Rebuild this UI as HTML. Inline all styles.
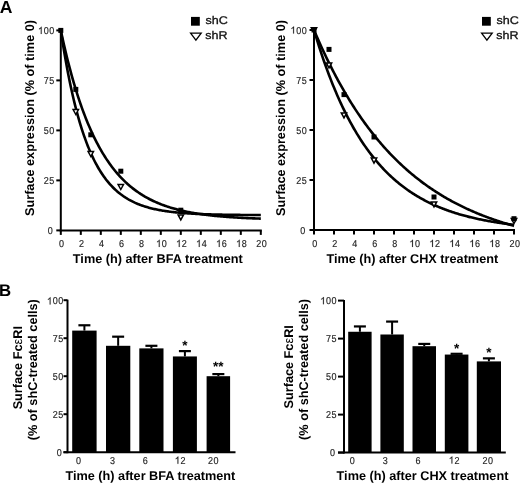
<!DOCTYPE html>
<html><head><meta charset="utf-8"><style>
html,body{margin:0;padding:0;background:#fff;}
body{width:520px;height:483px;overflow:hidden;}
svg{display:block;will-change:transform;}
text{font-family:"Liberation Sans",sans-serif;text-rendering:geometricPrecision;}
</style></head><body>
<svg width="520" height="483" viewBox="0 0 520 483">
<rect width="520" height="483" fill="#fff"/>
<line x1="60.8" y1="29.900000000000006" x2="60.8" y2="231.4" stroke="#000" stroke-width="2"/>
<line x1="59.8" y1="230.4" x2="261.8" y2="230.4" stroke="#000" stroke-width="2"/>
<line x1="56.3" y1="230.4" x2="60.8" y2="230.4" stroke="#000" stroke-width="2"/>
<text transform="translate(50.32 234.00) scale(0.9 1)" font-size="10" text-anchor="middle" fill="#222" stroke="#222" stroke-width="0.15">0</text>
<line x1="56.3" y1="180.4" x2="60.8" y2="180.4" stroke="#000" stroke-width="2"/>
<text transform="translate(46.26 184.00) scale(0.9 1)" font-size="10" text-anchor="middle" fill="#222" stroke="#222" stroke-width="0.15">2</text>
<text transform="translate(51.82 184.00) scale(0.9 1)" font-size="10" text-anchor="middle" fill="#222" stroke="#222" stroke-width="0.15">5</text>
<line x1="56.3" y1="130.4" x2="60.8" y2="130.4" stroke="#000" stroke-width="2"/>
<text transform="translate(46.26 134.00) scale(0.9 1)" font-size="10" text-anchor="middle" fill="#222" stroke="#222" stroke-width="0.15">5</text>
<text transform="translate(51.82 134.00) scale(0.9 1)" font-size="10" text-anchor="middle" fill="#222" stroke="#222" stroke-width="0.15">0</text>
<line x1="56.3" y1="80.4" x2="60.8" y2="80.4" stroke="#000" stroke-width="2"/>
<text transform="translate(46.26 84.00) scale(0.9 1)" font-size="10" text-anchor="middle" fill="#222" stroke="#222" stroke-width="0.15">7</text>
<text transform="translate(51.82 84.00) scale(0.9 1)" font-size="10" text-anchor="middle" fill="#222" stroke="#222" stroke-width="0.15">5</text>
<line x1="56.3" y1="30.400000000000006" x2="60.8" y2="30.400000000000006" stroke="#000" stroke-width="2"/>
<path d="M763 0L583 0L583 1147Q518 1085 412 1023Q306 961 222 930L222 1104Q373 1175 486 1276Q599 1377 646 1472L763 1472Z" transform="translate(37.92 34.00) scale(0.004883 -0.004883)" fill="#222" stroke="#222" stroke-width="30.7"/>
<text transform="translate(46.26 34.00) scale(0.9 1)" font-size="10" text-anchor="middle" fill="#222" stroke="#222" stroke-width="0.15">0</text>
<text transform="translate(51.82 34.00) scale(0.9 1)" font-size="10" text-anchor="middle" fill="#222" stroke="#222" stroke-width="0.15">0</text>
<line x1="60.8" y1="230.4" x2="60.8" y2="234.9" stroke="#000" stroke-width="2"/>
<text transform="translate(61.50 246.90) scale(0.9 1)" font-size="10" text-anchor="middle" fill="#222" stroke="#222" stroke-width="0.15">0</text>
<line x1="80.8" y1="230.4" x2="80.8" y2="234.9" stroke="#000" stroke-width="2"/>
<text transform="translate(81.50 246.90) scale(0.9 1)" font-size="10" text-anchor="middle" fill="#222" stroke="#222" stroke-width="0.15">2</text>
<line x1="100.8" y1="230.4" x2="100.8" y2="234.9" stroke="#000" stroke-width="2"/>
<text transform="translate(101.50 246.90) scale(0.9 1)" font-size="10" text-anchor="middle" fill="#222" stroke="#222" stroke-width="0.15">4</text>
<line x1="120.8" y1="230.4" x2="120.8" y2="234.9" stroke="#000" stroke-width="2"/>
<text transform="translate(121.50 246.90) scale(0.9 1)" font-size="10" text-anchor="middle" fill="#222" stroke="#222" stroke-width="0.15">6</text>
<line x1="140.8" y1="230.4" x2="140.8" y2="234.9" stroke="#000" stroke-width="2"/>
<text transform="translate(141.50 246.90) scale(0.9 1)" font-size="10" text-anchor="middle" fill="#222" stroke="#222" stroke-width="0.15">8</text>
<line x1="160.8" y1="230.4" x2="160.8" y2="234.9" stroke="#000" stroke-width="2"/>
<path d="M763 0L583 0L583 1147Q518 1085 412 1023Q306 961 222 930L222 1104Q373 1175 486 1276Q599 1377 646 1472L763 1472Z" transform="translate(155.94 246.90) scale(0.004883 -0.004883)" fill="#222" stroke="#222" stroke-width="30.7"/>
<text transform="translate(164.28 246.90) scale(0.9 1)" font-size="10" text-anchor="middle" fill="#222" stroke="#222" stroke-width="0.15">0</text>
<line x1="180.8" y1="230.4" x2="180.8" y2="234.9" stroke="#000" stroke-width="2"/>
<path d="M763 0L583 0L583 1147Q518 1085 412 1023Q306 961 222 930L222 1104Q373 1175 486 1276Q599 1377 646 1472L763 1472Z" transform="translate(175.94 246.90) scale(0.004883 -0.004883)" fill="#222" stroke="#222" stroke-width="30.7"/>
<text transform="translate(184.28 246.90) scale(0.9 1)" font-size="10" text-anchor="middle" fill="#222" stroke="#222" stroke-width="0.15">2</text>
<line x1="200.8" y1="230.4" x2="200.8" y2="234.9" stroke="#000" stroke-width="2"/>
<path d="M763 0L583 0L583 1147Q518 1085 412 1023Q306 961 222 930L222 1104Q373 1175 486 1276Q599 1377 646 1472L763 1472Z" transform="translate(195.94 246.90) scale(0.004883 -0.004883)" fill="#222" stroke="#222" stroke-width="30.7"/>
<text transform="translate(204.28 246.90) scale(0.9 1)" font-size="10" text-anchor="middle" fill="#222" stroke="#222" stroke-width="0.15">4</text>
<line x1="220.8" y1="230.4" x2="220.8" y2="234.9" stroke="#000" stroke-width="2"/>
<path d="M763 0L583 0L583 1147Q518 1085 412 1023Q306 961 222 930L222 1104Q373 1175 486 1276Q599 1377 646 1472L763 1472Z" transform="translate(215.94 246.90) scale(0.004883 -0.004883)" fill="#222" stroke="#222" stroke-width="30.7"/>
<text transform="translate(224.28 246.90) scale(0.9 1)" font-size="10" text-anchor="middle" fill="#222" stroke="#222" stroke-width="0.15">6</text>
<line x1="240.8" y1="230.4" x2="240.8" y2="234.9" stroke="#000" stroke-width="2"/>
<path d="M763 0L583 0L583 1147Q518 1085 412 1023Q306 961 222 930L222 1104Q373 1175 486 1276Q599 1377 646 1472L763 1472Z" transform="translate(235.94 246.90) scale(0.004883 -0.004883)" fill="#222" stroke="#222" stroke-width="30.7"/>
<text transform="translate(244.28 246.90) scale(0.9 1)" font-size="10" text-anchor="middle" fill="#222" stroke="#222" stroke-width="0.15">8</text>
<line x1="260.8" y1="230.4" x2="260.8" y2="234.9" stroke="#000" stroke-width="2"/>
<text transform="translate(258.72 246.90) scale(0.9 1)" font-size="10" text-anchor="middle" fill="#222" stroke="#222" stroke-width="0.15">2</text>
<text transform="translate(264.28 246.90) scale(0.9 1)" font-size="10" text-anchor="middle" fill="#222" stroke="#222" stroke-width="0.15">0</text>
<polyline points="60.80,30.40 61.80,35.06 62.80,39.60 63.80,44.04 64.80,48.36 65.80,52.58 66.80,56.69 67.80,60.71 68.80,64.62 69.80,68.44 70.80,72.16 71.80,75.80 72.80,79.34 73.80,82.80 74.80,86.17 75.80,89.46 76.80,92.66 77.80,95.79 78.80,98.84 79.80,101.82 80.80,104.72 81.80,107.56 82.80,110.32 83.80,113.01 84.80,115.64 85.80,118.21 86.80,120.71 87.80,123.15 88.80,125.53 89.80,127.85 90.80,130.11 91.80,132.32 92.80,134.47 93.80,136.57 94.80,138.62 95.80,140.62 96.80,142.57 97.80,144.47 98.80,146.33 99.80,148.14 100.80,149.90 101.80,151.63 102.80,153.31 103.80,154.94 104.80,156.54 105.80,158.10 106.80,159.62 107.80,161.10 108.80,162.55 109.80,163.96 110.80,165.34 111.80,166.68 112.80,167.99 113.80,169.27 114.80,170.51 115.80,171.73 116.80,172.91 117.80,174.07 118.80,175.19 119.80,176.29 120.80,177.37 121.80,178.41 122.80,179.44 123.80,180.43 124.80,181.40 125.80,182.35 126.80,183.27 127.80,184.17 128.80,185.05 129.80,185.91 130.80,186.75 131.80,187.56 132.80,188.36 133.80,189.14 134.80,189.89 135.80,190.63 136.80,191.35 137.80,192.06 138.80,192.74 139.80,193.41 140.80,194.06 141.80,194.70 142.80,195.32 143.80,195.92 144.80,196.51 145.80,197.09 146.80,197.65 147.80,198.20 148.80,198.73 149.80,199.26 150.80,199.76 151.80,200.26 152.80,200.74 153.80,201.22 154.80,201.68 155.80,202.12 156.80,202.56 157.80,202.99 158.80,203.41 159.80,203.81 160.80,204.21 161.80,204.60 162.80,204.97 163.80,205.34 164.80,205.70 165.80,206.05 166.80,206.39 167.80,206.72 168.80,207.05 169.80,207.37 170.80,207.68 171.80,207.98 172.80,208.27 173.80,208.56 174.80,208.84 175.80,209.11 176.80,209.38 177.80,209.64 178.80,209.89 179.80,210.14 180.80,210.38 181.80,210.61 182.80,210.84 183.80,211.07 184.80,211.28 185.80,211.50 186.80,211.70 187.80,211.91 188.80,212.10 189.80,212.30 190.80,212.48 191.80,212.67 192.80,212.85 193.80,213.02 194.80,213.19 195.80,213.36 196.80,213.52 197.80,213.68 198.80,213.83 199.80,213.98 200.80,214.13 201.80,214.27 202.80,214.41 203.80,214.55 204.80,214.68 205.80,214.81 206.80,214.93 207.80,215.06 208.80,215.18 209.80,215.29 210.80,215.41 211.80,215.52 212.80,215.63 213.80,215.73 214.80,215.84 215.80,215.94 216.80,216.04 217.80,216.13 218.80,216.23 219.80,216.32 220.80,216.41 221.80,216.49 222.80,216.58 223.80,216.66 224.80,216.74 225.80,216.82 226.80,216.90 227.80,216.97 228.80,217.04 229.80,217.12 230.80,217.19 231.80,217.25 232.80,217.32 233.80,217.38 234.80,217.45 235.80,217.51 236.80,217.57 237.80,217.63 238.80,217.68 239.80,217.74 240.80,217.79 241.80,217.85 242.80,217.90 243.80,217.95 244.80,218.00 245.80,218.04 246.80,218.09 247.80,218.14 248.80,218.18 249.80,218.22 250.80,218.27 251.80,218.31 252.80,218.35 253.80,218.39 254.80,218.42 255.80,218.46 256.80,218.50 257.80,218.53 258.80,218.57 259.80,218.60 260.80,218.63" fill="none" stroke="#000" stroke-width="2.6"/>
<polyline points="60.80,30.40 61.80,36.99 62.80,43.35 63.80,49.48 64.80,55.40 65.80,61.10 66.80,66.59 67.80,71.90 68.80,77.01 69.80,81.94 70.80,86.69 71.80,91.28 72.80,95.70 73.80,99.96 74.80,104.08 75.80,108.04 76.80,111.86 77.80,115.55 78.80,119.11 79.80,122.53 80.80,125.84 81.80,129.03 82.80,132.10 83.80,135.07 84.80,137.93 85.80,140.68 86.80,143.34 87.80,145.91 88.80,148.38 89.80,150.76 90.80,153.06 91.80,155.28 92.80,157.42 93.80,159.48 94.80,161.47 95.80,163.38 96.80,165.23 97.80,167.01 98.80,168.73 99.80,170.39 100.80,171.99 101.80,173.53 102.80,175.02 103.80,176.45 104.80,177.83 105.80,179.17 106.80,180.45 107.80,181.69 108.80,182.89 109.80,184.04 110.80,185.15 111.80,186.22 112.80,187.26 113.80,188.26 114.80,189.22 115.80,190.14 116.80,191.04 117.80,191.90 118.80,192.73 119.80,193.53 120.80,194.31 121.80,195.05 122.80,195.77 123.80,196.46 124.80,197.13 125.80,197.78 126.80,198.40 127.80,199.00 128.80,199.58 129.80,200.13 130.80,200.67 131.80,201.19 132.80,201.69 133.80,202.17 134.80,202.64 135.80,203.08 136.80,203.52 137.80,203.93 138.80,204.34 139.80,204.72 140.80,205.10 141.80,205.46 142.80,205.80 143.80,206.14 144.80,206.46 145.80,206.77 146.80,207.08 147.80,207.37 148.80,207.64 149.80,207.91 150.80,208.17 151.80,208.42 152.80,208.67 153.80,208.90 154.80,209.12 155.80,209.34 156.80,209.55 157.80,209.75 158.80,209.95 159.80,210.13 160.80,210.31 161.80,210.49 162.80,210.66 163.80,210.82 164.80,210.98 165.80,211.13 166.80,211.27 167.80,211.41 168.80,211.55 169.80,211.68 170.80,211.80 171.80,211.92 172.80,212.04 173.80,212.15 174.80,212.26 175.80,212.37 176.80,212.47 177.80,212.57 178.80,212.66 179.80,212.75 180.80,212.84 181.80,212.92 182.80,213.00 183.80,213.08 184.80,213.16 185.80,213.23 186.80,213.30 187.80,213.37 188.80,213.43 189.80,213.50 190.80,213.56 191.80,213.62 192.80,213.67 193.80,213.73 194.80,213.78 195.80,213.83 196.80,213.88 197.80,213.93 198.80,213.97 199.80,214.02 200.80,214.06 201.80,214.10 202.80,214.14 203.80,214.18 204.80,214.21 205.80,214.25 206.80,214.28 207.80,214.31 208.80,214.35 209.80,214.38 210.80,214.41 211.80,214.43 212.80,214.46 213.80,214.49 214.80,214.51 215.80,214.54 216.80,214.56 217.80,214.58 218.80,214.61 219.80,214.63 220.80,214.65 221.80,214.67 222.80,214.69 223.80,214.70 224.80,214.72 225.80,214.74 226.80,214.76 227.80,214.77 228.80,214.79 229.80,214.80 230.80,214.82 231.80,214.83 232.80,214.84 233.80,214.86 234.80,214.87 235.80,214.88 236.80,214.89 237.80,214.90 238.80,214.91 239.80,214.92 240.80,214.93 241.80,214.94 242.80,214.95 243.80,214.96 244.80,214.97 245.80,214.98 246.80,214.99 247.80,214.99 248.80,215.00 249.80,215.01 250.80,215.01 251.80,215.02 252.80,215.03 253.80,215.03 254.80,215.04 255.80,215.05 256.80,215.05 257.80,215.06 258.80,215.06 259.80,215.07 260.80,215.07" fill="none" stroke="#000" stroke-width="2.6"/>
<polygon points="73.1,109.50000000000001 78.5,109.50000000000001 75.8,114.50000000000001" fill="#fff" stroke="#000" stroke-width="1.5"/>
<polygon points="88.1,151.5 93.5,151.5 90.8,156.5" fill="#fff" stroke="#000" stroke-width="1.5"/>
<polygon points="118.1,184.5 123.5,184.5 120.8,189.5" fill="#fff" stroke="#000" stroke-width="1.5"/>
<polygon points="178.10000000000002,214.9 183.5,214.9 180.8,219.9" fill="#fff" stroke="#000" stroke-width="1.5"/>
<rect x="58.3" y="27.900000000000006" width="5" height="5" fill="#000"/>
<rect x="73.3" y="86.9" width="5" height="5" fill="#000"/>
<rect x="88.3" y="132.3" width="5" height="5" fill="#000"/>
<rect x="118.3" y="168.7" width="5" height="5" fill="#000"/>
<rect x="178.3" y="207.70000000000002" width="5" height="5" fill="#000"/>
<rect x="191" y="16.9" width="8.8" height="8.8" fill="#000"/>
<text x="205.5" y="24.2" font-size="11.2" font-weight="normal" text-anchor="start" fill="#111" textLength="22.3" lengthAdjust="spacingAndGlyphs" stroke="#111" stroke-width="0.3">shC</text>
<polygon points="190.6,33.2 201.2,33.2 195.9,40.2" fill="#fff" stroke="#000" stroke-width="1.3"/>
<text x="205.3" y="39.2" font-size="11.2" font-weight="normal" text-anchor="start" fill="#111" textLength="22.3" lengthAdjust="spacingAndGlyphs" stroke="#111" stroke-width="0.3">shR</text>
<text x="157.8" y="263.3" font-size="12.7" font-weight="bold" text-anchor="middle" fill="#000">Time (h) after BFA treatment</text>
<text x="33.5" y="118" font-size="12.7" font-weight="bold" text-anchor="middle" fill="#000" transform="rotate(-90 33.5 118)">Surface expression (% of time 0)</text>
<line x1="314.0" y1="29.5" x2="314.0" y2="231.0" stroke="#000" stroke-width="2"/>
<line x1="313.0" y1="230.0" x2="515.0" y2="230.0" stroke="#000" stroke-width="2"/>
<line x1="309.5" y1="230.0" x2="314.0" y2="230.0" stroke="#000" stroke-width="2"/>
<text transform="translate(302.72 233.60) scale(0.9 1)" font-size="10" text-anchor="middle" fill="#222" stroke="#222" stroke-width="0.15">0</text>
<line x1="309.5" y1="180.0" x2="314.0" y2="180.0" stroke="#000" stroke-width="2"/>
<text transform="translate(298.66 183.60) scale(0.9 1)" font-size="10" text-anchor="middle" fill="#222" stroke="#222" stroke-width="0.15">2</text>
<text transform="translate(304.22 183.60) scale(0.9 1)" font-size="10" text-anchor="middle" fill="#222" stroke="#222" stroke-width="0.15">5</text>
<line x1="309.5" y1="130.0" x2="314.0" y2="130.0" stroke="#000" stroke-width="2"/>
<text transform="translate(298.66 133.60) scale(0.9 1)" font-size="10" text-anchor="middle" fill="#222" stroke="#222" stroke-width="0.15">5</text>
<text transform="translate(304.22 133.60) scale(0.9 1)" font-size="10" text-anchor="middle" fill="#222" stroke="#222" stroke-width="0.15">0</text>
<line x1="309.5" y1="80.0" x2="314.0" y2="80.0" stroke="#000" stroke-width="2"/>
<text transform="translate(298.66 83.60) scale(0.9 1)" font-size="10" text-anchor="middle" fill="#222" stroke="#222" stroke-width="0.15">7</text>
<text transform="translate(304.22 83.60) scale(0.9 1)" font-size="10" text-anchor="middle" fill="#222" stroke="#222" stroke-width="0.15">5</text>
<line x1="309.5" y1="30.0" x2="314.0" y2="30.0" stroke="#000" stroke-width="2"/>
<path d="M763 0L583 0L583 1147Q518 1085 412 1023Q306 961 222 930L222 1104Q373 1175 486 1276Q599 1377 646 1472L763 1472Z" transform="translate(290.32 33.60) scale(0.004883 -0.004883)" fill="#222" stroke="#222" stroke-width="30.7"/>
<text transform="translate(298.66 33.60) scale(0.9 1)" font-size="10" text-anchor="middle" fill="#222" stroke="#222" stroke-width="0.15">0</text>
<text transform="translate(304.22 33.60) scale(0.9 1)" font-size="10" text-anchor="middle" fill="#222" stroke="#222" stroke-width="0.15">0</text>
<line x1="314.0" y1="230.0" x2="314.0" y2="234.5" stroke="#000" stroke-width="2"/>
<text transform="translate(314.80 246.90) scale(0.9 1)" font-size="10" text-anchor="middle" fill="#222" stroke="#222" stroke-width="0.15">0</text>
<line x1="334.0" y1="230.0" x2="334.0" y2="234.5" stroke="#000" stroke-width="2"/>
<text transform="translate(334.80 246.90) scale(0.9 1)" font-size="10" text-anchor="middle" fill="#222" stroke="#222" stroke-width="0.15">2</text>
<line x1="354.0" y1="230.0" x2="354.0" y2="234.5" stroke="#000" stroke-width="2"/>
<text transform="translate(354.80 246.90) scale(0.9 1)" font-size="10" text-anchor="middle" fill="#222" stroke="#222" stroke-width="0.15">4</text>
<line x1="374.0" y1="230.0" x2="374.0" y2="234.5" stroke="#000" stroke-width="2"/>
<text transform="translate(374.80 246.90) scale(0.9 1)" font-size="10" text-anchor="middle" fill="#222" stroke="#222" stroke-width="0.15">6</text>
<line x1="394.0" y1="230.0" x2="394.0" y2="234.5" stroke="#000" stroke-width="2"/>
<text transform="translate(394.80 246.90) scale(0.9 1)" font-size="10" text-anchor="middle" fill="#222" stroke="#222" stroke-width="0.15">8</text>
<line x1="414.0" y1="230.0" x2="414.0" y2="234.5" stroke="#000" stroke-width="2"/>
<path d="M763 0L583 0L583 1147Q518 1085 412 1023Q306 961 222 930L222 1104Q373 1175 486 1276Q599 1377 646 1472L763 1472Z" transform="translate(409.24 246.90) scale(0.004883 -0.004883)" fill="#222" stroke="#222" stroke-width="30.7"/>
<text transform="translate(417.58 246.90) scale(0.9 1)" font-size="10" text-anchor="middle" fill="#222" stroke="#222" stroke-width="0.15">0</text>
<line x1="434.0" y1="230.0" x2="434.0" y2="234.5" stroke="#000" stroke-width="2"/>
<path d="M763 0L583 0L583 1147Q518 1085 412 1023Q306 961 222 930L222 1104Q373 1175 486 1276Q599 1377 646 1472L763 1472Z" transform="translate(429.24 246.90) scale(0.004883 -0.004883)" fill="#222" stroke="#222" stroke-width="30.7"/>
<text transform="translate(437.58 246.90) scale(0.9 1)" font-size="10" text-anchor="middle" fill="#222" stroke="#222" stroke-width="0.15">2</text>
<line x1="454.0" y1="230.0" x2="454.0" y2="234.5" stroke="#000" stroke-width="2"/>
<path d="M763 0L583 0L583 1147Q518 1085 412 1023Q306 961 222 930L222 1104Q373 1175 486 1276Q599 1377 646 1472L763 1472Z" transform="translate(449.24 246.90) scale(0.004883 -0.004883)" fill="#222" stroke="#222" stroke-width="30.7"/>
<text transform="translate(457.58 246.90) scale(0.9 1)" font-size="10" text-anchor="middle" fill="#222" stroke="#222" stroke-width="0.15">4</text>
<line x1="474.0" y1="230.0" x2="474.0" y2="234.5" stroke="#000" stroke-width="2"/>
<path d="M763 0L583 0L583 1147Q518 1085 412 1023Q306 961 222 930L222 1104Q373 1175 486 1276Q599 1377 646 1472L763 1472Z" transform="translate(469.24 246.90) scale(0.004883 -0.004883)" fill="#222" stroke="#222" stroke-width="30.7"/>
<text transform="translate(477.58 246.90) scale(0.9 1)" font-size="10" text-anchor="middle" fill="#222" stroke="#222" stroke-width="0.15">6</text>
<line x1="494.0" y1="230.0" x2="494.0" y2="234.5" stroke="#000" stroke-width="2"/>
<path d="M763 0L583 0L583 1147Q518 1085 412 1023Q306 961 222 930L222 1104Q373 1175 486 1276Q599 1377 646 1472L763 1472Z" transform="translate(489.24 246.90) scale(0.004883 -0.004883)" fill="#222" stroke="#222" stroke-width="30.7"/>
<text transform="translate(497.58 246.90) scale(0.9 1)" font-size="10" text-anchor="middle" fill="#222" stroke="#222" stroke-width="0.15">8</text>
<line x1="514.0" y1="230.0" x2="514.0" y2="234.5" stroke="#000" stroke-width="2"/>
<text transform="translate(512.02 246.90) scale(0.9 1)" font-size="10" text-anchor="middle" fill="#222" stroke="#222" stroke-width="0.15">2</text>
<text transform="translate(517.58 246.90) scale(0.9 1)" font-size="10" text-anchor="middle" fill="#222" stroke="#222" stroke-width="0.15">0</text>
<polyline points="314.00,30.00 315.00,32.36 316.00,34.70 317.00,37.01 318.00,39.30 319.00,41.56 320.00,43.80 321.00,46.02 322.00,48.21 323.00,50.38 324.00,52.53 325.00,54.65 326.00,56.75 327.00,58.83 328.00,60.88 329.00,62.92 330.00,64.93 331.00,66.92 332.00,68.89 333.00,70.84 334.00,72.77 335.00,74.68 336.00,76.56 337.00,78.43 338.00,80.28 339.00,82.11 340.00,83.91 341.00,85.70 342.00,87.47 343.00,89.22 344.00,90.96 345.00,92.67 346.00,94.37 347.00,96.04 348.00,97.70 349.00,99.35 350.00,100.97 351.00,102.58 352.00,104.17 353.00,105.74 354.00,107.30 355.00,108.84 356.00,110.36 357.00,111.87 358.00,113.36 359.00,114.84 360.00,116.30 361.00,117.74 362.00,119.17 363.00,120.58 364.00,121.98 365.00,123.37 366.00,124.73 367.00,126.09 368.00,127.43 369.00,128.75 370.00,130.07 371.00,131.36 372.00,132.65 373.00,133.92 374.00,135.17 375.00,136.42 376.00,137.65 377.00,138.87 378.00,140.07 379.00,141.26 380.00,142.44 381.00,143.61 382.00,144.76 383.00,145.90 384.00,147.03 385.00,148.15 386.00,149.25 387.00,150.35 388.00,151.43 389.00,152.50 390.00,153.56 391.00,154.60 392.00,155.64 393.00,156.67 394.00,157.68 395.00,158.69 396.00,159.68 397.00,160.66 398.00,161.63 399.00,162.59 400.00,163.55 401.00,164.49 402.00,165.42 403.00,166.34 404.00,167.25 405.00,168.15 406.00,169.05 407.00,169.93 408.00,170.80 409.00,171.67 410.00,172.52 411.00,173.37 412.00,174.20 413.00,175.03 414.00,175.85 415.00,176.66 416.00,177.46 417.00,178.26 418.00,179.04 419.00,179.82 420.00,180.59 421.00,181.35 422.00,182.10 423.00,182.84 424.00,183.58 425.00,184.31 426.00,185.03 427.00,185.74 428.00,186.45 429.00,187.14 430.00,187.83 431.00,188.52 432.00,189.19 433.00,189.86 434.00,190.52 435.00,191.18 436.00,191.82 437.00,192.46 438.00,193.10 439.00,193.72 440.00,194.34 441.00,194.96 442.00,195.57 443.00,196.17 444.00,196.76 445.00,197.35 446.00,197.93 447.00,198.51 448.00,199.07 449.00,199.64 450.00,200.20 451.00,200.75 452.00,201.29 453.00,201.83 454.00,202.37 455.00,202.89 456.00,203.42 457.00,203.93 458.00,204.45 459.00,204.95 460.00,205.45 461.00,205.95 462.00,206.44 463.00,206.92 464.00,207.40 465.00,207.88 466.00,208.35 467.00,208.81 468.00,209.27 469.00,209.73 470.00,210.18 471.00,210.62 472.00,211.06 473.00,211.50 474.00,211.93 475.00,212.35 476.00,212.78 477.00,213.19 478.00,213.61 479.00,214.02 480.00,214.42 481.00,214.82 482.00,215.22 483.00,215.61 484.00,215.99 485.00,216.38 486.00,216.76 487.00,217.13 488.00,217.50 489.00,217.87 490.00,218.23 491.00,218.59 492.00,218.95 493.00,219.30 494.00,219.65 495.00,219.99 496.00,220.33 497.00,220.67 498.00,221.00 499.00,221.33 500.00,221.66 501.00,221.98 502.00,222.30 503.00,222.62 504.00,222.93 505.00,223.24 506.00,223.55 507.00,223.85 508.00,224.15 509.00,224.45 510.00,224.74 511.00,225.03 512.00,225.32 513.00,225.60 514.00,225.88" fill="none" stroke="#000" stroke-width="2.6"/>
<polyline points="314.00,30.00 315.00,33.36 316.00,36.67 317.00,39.92 318.00,43.12 319.00,46.26 320.00,49.35 321.00,52.39 322.00,55.38 323.00,58.32 324.00,61.21 325.00,64.05 326.00,66.84 327.00,69.59 328.00,72.29 329.00,74.95 330.00,77.57 331.00,80.13 332.00,82.66 333.00,85.15 334.00,87.59 335.00,89.99 336.00,92.35 337.00,94.68 338.00,96.96 339.00,99.21 340.00,101.42 341.00,103.59 342.00,105.72 343.00,107.83 344.00,109.89 345.00,111.92 346.00,113.92 347.00,115.88 348.00,117.81 349.00,119.71 350.00,121.58 351.00,123.42 352.00,125.22 353.00,127.00 354.00,128.74 355.00,130.46 356.00,132.15 357.00,133.81 358.00,135.44 359.00,137.05 360.00,138.63 361.00,140.18 362.00,141.70 363.00,143.20 364.00,144.68 365.00,146.13 366.00,147.56 367.00,148.96 368.00,150.34 369.00,151.70 370.00,153.03 371.00,154.35 372.00,155.64 373.00,156.91 374.00,158.15 375.00,159.38 376.00,160.59 377.00,161.77 378.00,162.94 379.00,164.09 380.00,165.22 381.00,166.32 382.00,167.42 383.00,168.49 384.00,169.54 385.00,170.58 386.00,171.60 387.00,172.60 388.00,173.59 389.00,174.56 390.00,175.51 391.00,176.45 392.00,177.37 393.00,178.28 394.00,179.17 395.00,180.05 396.00,180.91 397.00,181.76 398.00,182.59 399.00,183.41 400.00,184.22 401.00,185.01 402.00,185.79 403.00,186.56 404.00,187.31 405.00,188.05 406.00,188.78 407.00,189.50 408.00,190.20 409.00,190.89 410.00,191.58 411.00,192.25 412.00,192.90 413.00,193.55 414.00,194.19 415.00,194.82 416.00,195.43 417.00,196.04 418.00,196.63 419.00,197.22 420.00,197.80 421.00,198.36 422.00,198.92 423.00,199.47 424.00,200.01 425.00,200.54 426.00,201.06 427.00,201.57 428.00,202.07 429.00,202.57 430.00,203.05 431.00,203.53 432.00,204.00 433.00,204.47 434.00,204.92 435.00,205.37 436.00,205.81 437.00,206.24 438.00,206.67 439.00,207.09 440.00,207.50 441.00,207.90 442.00,208.30 443.00,208.69 444.00,209.08 445.00,209.46 446.00,209.83 447.00,210.20 448.00,210.56 449.00,210.91 450.00,211.26 451.00,211.60 452.00,211.94 453.00,212.27 454.00,212.59 455.00,212.91 456.00,213.23 457.00,213.54 458.00,213.84 459.00,214.14 460.00,214.43 461.00,214.72 462.00,215.01 463.00,215.29 464.00,215.56 465.00,215.83 466.00,216.10 467.00,216.36 468.00,216.62 469.00,216.87 470.00,217.12 471.00,217.36 472.00,217.61 473.00,217.84 474.00,218.07 475.00,218.30 476.00,218.53 477.00,218.75 478.00,218.97 479.00,219.18 480.00,219.39 481.00,219.60 482.00,219.80 483.00,220.00 484.00,220.20 485.00,220.39 486.00,220.58 487.00,220.77 488.00,220.95 489.00,221.13 490.00,221.31 491.00,221.48 492.00,221.66 493.00,221.83 494.00,221.99 495.00,222.15 496.00,222.32 497.00,222.47 498.00,222.63 499.00,222.78 500.00,222.93 501.00,223.08 502.00,223.22 503.00,223.37 504.00,223.51 505.00,223.65 506.00,223.78 507.00,223.92 508.00,224.05 509.00,224.18 510.00,224.30 511.00,224.43 512.00,224.55 513.00,224.67 514.00,224.79" fill="none" stroke="#000" stroke-width="2.6"/>
<polygon points="311.3,27.7 316.7,27.7 314.0,32.7" fill="#000" stroke="#000" stroke-width="1.5"/>
<polygon points="326.3,62.89999999999999 331.7,62.89999999999999 329.0,67.89999999999999" fill="#fff" stroke="#000" stroke-width="1.5"/>
<polygon points="341.3,112.9 346.7,112.9 344.0,117.9" fill="#fff" stroke="#000" stroke-width="1.5"/>
<polygon points="371.3,158.1 376.7,158.1 374.0,163.1" fill="#fff" stroke="#000" stroke-width="1.5"/>
<polygon points="431.3,201.89999999999998 436.7,201.89999999999998 434.0,206.89999999999998" fill="#fff" stroke="#000" stroke-width="1.5"/>
<polygon points="511.3,218.5 516.7,218.5 514.0,223.5" fill="#fff" stroke="#000" stroke-width="1.5"/>
<rect x="311.5" y="27.5" width="5" height="5" fill="#000"/>
<rect x="326.5" y="46.900000000000006" width="5" height="5" fill="#000"/>
<rect x="341.5" y="92.1" width="5" height="5" fill="#000"/>
<rect x="371.5" y="134.5" width="5" height="5" fill="#000"/>
<rect x="431.5" y="194.5" width="5" height="5" fill="#000"/>
<rect x="511.5" y="216.2" width="5" height="5" fill="#000"/>
<rect x="482" y="16.9" width="8.8" height="8.8" fill="#000"/>
<text x="496.5" y="24.2" font-size="11.2" font-weight="normal" text-anchor="start" fill="#111" textLength="22.3" lengthAdjust="spacingAndGlyphs" stroke="#111" stroke-width="0.3">shC</text>
<polygon points="481.6,33.2 492.2,33.2 486.9,40.2" fill="#fff" stroke="#000" stroke-width="1.3"/>
<text x="496.3" y="39.2" font-size="11.2" font-weight="normal" text-anchor="start" fill="#111" textLength="22.3" lengthAdjust="spacingAndGlyphs" stroke="#111" stroke-width="0.3">shR</text>
<text x="412.3" y="263.3" font-size="12.7" font-weight="bold" text-anchor="middle" fill="#000">Time (h) after CHX treatment</text>
<text x="285.3" y="118" font-size="12.7" font-weight="bold" text-anchor="middle" fill="#000" transform="rotate(-90 285.3 118)">Surface expression (% of time 0)</text>
<line x1="67.5" y1="299.7" x2="67.5" y2="453.2" stroke="#000" stroke-width="2"/>
<line x1="63.5" y1="452.2" x2="235.5" y2="452.2" stroke="#000" stroke-width="2"/>
<line x1="63.5" y1="452.2" x2="67.5" y2="452.2" stroke="#000" stroke-width="2"/>
<text transform="translate(59.22 456.40) scale(0.9 1)" font-size="10" text-anchor="middle" fill="#222" stroke="#222" stroke-width="0.15">0</text>
<line x1="63.5" y1="414.2" x2="67.5" y2="414.2" stroke="#000" stroke-width="2"/>
<text transform="translate(55.16 418.40) scale(0.9 1)" font-size="10" text-anchor="middle" fill="#222" stroke="#222" stroke-width="0.15">2</text>
<text transform="translate(60.72 418.40) scale(0.9 1)" font-size="10" text-anchor="middle" fill="#222" stroke="#222" stroke-width="0.15">5</text>
<line x1="63.5" y1="376.2" x2="67.5" y2="376.2" stroke="#000" stroke-width="2"/>
<text transform="translate(55.16 380.40) scale(0.9 1)" font-size="10" text-anchor="middle" fill="#222" stroke="#222" stroke-width="0.15">5</text>
<text transform="translate(60.72 380.40) scale(0.9 1)" font-size="10" text-anchor="middle" fill="#222" stroke="#222" stroke-width="0.15">0</text>
<line x1="63.5" y1="338.2" x2="67.5" y2="338.2" stroke="#000" stroke-width="2"/>
<text transform="translate(55.16 342.40) scale(0.9 1)" font-size="10" text-anchor="middle" fill="#222" stroke="#222" stroke-width="0.15">7</text>
<text transform="translate(60.72 342.40) scale(0.9 1)" font-size="10" text-anchor="middle" fill="#222" stroke="#222" stroke-width="0.15">5</text>
<line x1="63.5" y1="300.2" x2="67.5" y2="300.2" stroke="#000" stroke-width="2"/>
<path d="M763 0L583 0L583 1147Q518 1085 412 1023Q306 961 222 930L222 1104Q373 1175 486 1276Q599 1377 646 1472L763 1472Z" transform="translate(46.82 304.40) scale(0.004883 -0.004883)" fill="#222" stroke="#222" stroke-width="30.7"/>
<text transform="translate(55.16 304.40) scale(0.9 1)" font-size="10" text-anchor="middle" fill="#222" stroke="#222" stroke-width="0.15">0</text>
<text transform="translate(60.72 304.40) scale(0.9 1)" font-size="10" text-anchor="middle" fill="#222" stroke="#222" stroke-width="0.15">0</text>
<rect x="72.2" y="330.6" width="24.4" height="121.59999999999997" fill="#000"/>
<line x1="84.4" y1="330.6" x2="84.4" y2="325.28" stroke="#000" stroke-width="2"/>
<line x1="78.4" y1="325.28" x2="90.4" y2="325.28" stroke="#000" stroke-width="2.2"/>
<text transform="translate(78.50 463.80) scale(0.9 1)" font-size="10" text-anchor="middle" fill="#222" stroke="#222" stroke-width="0.15">0</text>
<rect x="106" y="345.79999999999995" width="24.3" height="106.40000000000003" fill="#000"/>
<line x1="118.15" y1="345.79999999999995" x2="118.15" y2="336.68" stroke="#000" stroke-width="2"/>
<line x1="112.15" y1="336.68" x2="124.15" y2="336.68" stroke="#000" stroke-width="2.2"/>
<text transform="translate(112.50 463.80) scale(0.9 1)" font-size="10" text-anchor="middle" fill="#222" stroke="#222" stroke-width="0.15">3</text>
<rect x="139.3" y="348.384" width="24.2" height="103.81599999999997" fill="#000"/>
<line x1="151.4" y1="348.384" x2="151.4" y2="345.79999999999995" stroke="#000" stroke-width="2"/>
<line x1="145.4" y1="345.79999999999995" x2="157.4" y2="345.79999999999995" stroke="#000" stroke-width="2.2"/>
<text transform="translate(145.30 463.80) scale(0.9 1)" font-size="10" text-anchor="middle" fill="#222" stroke="#222" stroke-width="0.15">6</text>
<rect x="172.9" y="356.44" width="24" height="95.75999999999999" fill="#000"/>
<line x1="184.9" y1="356.44" x2="184.9" y2="351.12" stroke="#000" stroke-width="2"/>
<line x1="178.9" y1="351.12" x2="190.9" y2="351.12" stroke="#000" stroke-width="2.2"/>
<text x="184.9" y="349.92" font-size="13.5" font-weight="bold" text-anchor="middle" fill="#000">*</text>
<path d="M763 0L583 0L583 1147Q518 1085 412 1023Q306 961 222 930L222 1104Q373 1175 486 1276Q599 1377 646 1472L763 1472Z" transform="translate(174.64 463.80) scale(0.004883 -0.004883)" fill="#222" stroke="#222" stroke-width="30.7"/>
<text transform="translate(182.98 463.80) scale(0.9 1)" font-size="10" text-anchor="middle" fill="#222" stroke="#222" stroke-width="0.15">2</text>
<rect x="206.6" y="376.2" width="23.5" height="76.0" fill="#000"/>
<line x1="218.35" y1="376.2" x2="218.35" y2="374.072" stroke="#000" stroke-width="2"/>
<line x1="212.35" y1="374.072" x2="224.35" y2="374.072" stroke="#000" stroke-width="2.2"/>
<text x="218.35" y="371.172" font-size="13.5" font-weight="bold" text-anchor="middle" fill="#000">**</text>
<text transform="translate(210.42 463.80) scale(0.9 1)" font-size="10" text-anchor="middle" fill="#222" stroke="#222" stroke-width="0.15">2</text>
<text transform="translate(215.98 463.80) scale(0.9 1)" font-size="10" text-anchor="middle" fill="#222" stroke="#222" stroke-width="0.15">0</text>
<text x="150.4" y="480" font-size="12.7" font-weight="bold" text-anchor="middle" fill="#000">Time (h) after BFA treatment</text>
<text x="22.5" y="367.7" font-size="12.7" font-weight="bold" text-anchor="middle" fill="#000" transform="rotate(-90 22.5 367.7)">Surface Fc<tspan font-weight="normal" font-size="13">&#949;</tspan>RI</text>
<text x="37.5" y="369.7" font-size="12.7" font-weight="bold" text-anchor="middle" fill="#000" transform="rotate(-90 37.5 369.7)">(% of shC-treated cells)</text>
<line x1="344" y1="300.1" x2="344" y2="453.6" stroke="#000" stroke-width="2"/>
<line x1="338" y1="452.6" x2="505.8" y2="452.6" stroke="#000" stroke-width="2"/>
<line x1="338" y1="452.6" x2="344" y2="452.6" stroke="#000" stroke-width="2"/>
<text transform="translate(332.52 456.20) scale(0.9 1)" font-size="10" text-anchor="middle" fill="#222" stroke="#222" stroke-width="0.15">0</text>
<line x1="338" y1="414.6" x2="344" y2="414.6" stroke="#000" stroke-width="2"/>
<text transform="translate(328.46 418.20) scale(0.9 1)" font-size="10" text-anchor="middle" fill="#222" stroke="#222" stroke-width="0.15">2</text>
<text transform="translate(334.02 418.20) scale(0.9 1)" font-size="10" text-anchor="middle" fill="#222" stroke="#222" stroke-width="0.15">5</text>
<line x1="338" y1="376.6" x2="344" y2="376.6" stroke="#000" stroke-width="2"/>
<text transform="translate(328.46 380.20) scale(0.9 1)" font-size="10" text-anchor="middle" fill="#222" stroke="#222" stroke-width="0.15">5</text>
<text transform="translate(334.02 380.20) scale(0.9 1)" font-size="10" text-anchor="middle" fill="#222" stroke="#222" stroke-width="0.15">0</text>
<line x1="338" y1="338.6" x2="344" y2="338.6" stroke="#000" stroke-width="2"/>
<text transform="translate(328.46 342.20) scale(0.9 1)" font-size="10" text-anchor="middle" fill="#222" stroke="#222" stroke-width="0.15">7</text>
<text transform="translate(334.02 342.20) scale(0.9 1)" font-size="10" text-anchor="middle" fill="#222" stroke="#222" stroke-width="0.15">5</text>
<line x1="338" y1="300.6" x2="344" y2="300.6" stroke="#000" stroke-width="2"/>
<path d="M763 0L583 0L583 1147Q518 1085 412 1023Q306 961 222 930L222 1104Q373 1175 486 1276Q599 1377 646 1472L763 1472Z" transform="translate(320.12 304.20) scale(0.004883 -0.004883)" fill="#222" stroke="#222" stroke-width="30.7"/>
<text transform="translate(328.46 304.20) scale(0.9 1)" font-size="10" text-anchor="middle" fill="#222" stroke="#222" stroke-width="0.15">0</text>
<text transform="translate(334.02 304.20) scale(0.9 1)" font-size="10" text-anchor="middle" fill="#222" stroke="#222" stroke-width="0.15">0</text>
<rect x="348.2" y="331.76" width="23.4" height="120.84000000000003" fill="#000"/>
<line x1="359.9" y1="331.76" x2="359.9" y2="326.44000000000005" stroke="#000" stroke-width="2"/>
<line x1="353.9" y1="326.44000000000005" x2="365.9" y2="326.44000000000005" stroke="#000" stroke-width="2.2"/>
<text transform="translate(352.30 463.60) scale(0.9 1)" font-size="10" text-anchor="middle" fill="#222" stroke="#222" stroke-width="0.15">0</text>
<rect x="380.4" y="334.49600000000004" width="23.4" height="118.10399999999998" fill="#000"/>
<line x1="392.09999999999997" y1="334.49600000000004" x2="392.09999999999997" y2="321.576" stroke="#000" stroke-width="2"/>
<line x1="386.09999999999997" y1="321.576" x2="398.09999999999997" y2="321.576" stroke="#000" stroke-width="2.2"/>
<text transform="translate(385.20 463.60) scale(0.9 1)" font-size="10" text-anchor="middle" fill="#222" stroke="#222" stroke-width="0.15">3</text>
<rect x="412.5" y="346.20000000000005" width="23.5" height="106.39999999999998" fill="#000"/>
<line x1="424.25" y1="346.20000000000005" x2="424.25" y2="343.92" stroke="#000" stroke-width="2"/>
<line x1="418.25" y1="343.92" x2="430.25" y2="343.92" stroke="#000" stroke-width="2.2"/>
<text transform="translate(418.00 463.60) scale(0.9 1)" font-size="10" text-anchor="middle" fill="#222" stroke="#222" stroke-width="0.15">6</text>
<rect x="444.8" y="354.56" width="23.6" height="98.04000000000002" fill="#000"/>
<line x1="456.6" y1="354.56" x2="456.6" y2="353.8" stroke="#000" stroke-width="2"/>
<line x1="450.6" y1="353.8" x2="462.6" y2="353.8" stroke="#000" stroke-width="2.2"/>
<text x="456.6" y="352.6" font-size="13.5" font-weight="bold" text-anchor="middle" fill="#000">*</text>
<path d="M763 0L583 0L583 1147Q518 1085 412 1023Q306 961 222 930L222 1104Q373 1175 486 1276Q599 1377 646 1472L763 1472Z" transform="translate(448.64 463.60) scale(0.004883 -0.004883)" fill="#222" stroke="#222" stroke-width="30.7"/>
<text transform="translate(456.98 463.60) scale(0.9 1)" font-size="10" text-anchor="middle" fill="#222" stroke="#222" stroke-width="0.15">2</text>
<rect x="476.8" y="361.40000000000003" width="24.2" height="91.19999999999999" fill="#000"/>
<line x1="488.90000000000003" y1="361.40000000000003" x2="488.90000000000003" y2="358.36" stroke="#000" stroke-width="2"/>
<line x1="482.90000000000003" y1="358.36" x2="494.90000000000003" y2="358.36" stroke="#000" stroke-width="2.2"/>
<text x="488.90000000000003" y="357.16" font-size="13.5" font-weight="bold" text-anchor="middle" fill="#000">*</text>
<text transform="translate(485.02 463.60) scale(0.9 1)" font-size="10" text-anchor="middle" fill="#222" stroke="#222" stroke-width="0.15">2</text>
<text transform="translate(490.58 463.60) scale(0.9 1)" font-size="10" text-anchor="middle" fill="#222" stroke="#222" stroke-width="0.15">0</text>
<text x="422.5" y="480" font-size="12.7" font-weight="bold" text-anchor="middle" fill="#000">Time (h) after CHX treatment</text>
<text x="293.5" y="366.8" font-size="12.7" font-weight="bold" text-anchor="middle" fill="#000" transform="rotate(-90 293.5 366.8)">Surface Fc<tspan font-weight="normal" font-size="13">&#949;</tspan>RI</text>
<text x="308.5" y="369.4" font-size="12.7" font-weight="bold" text-anchor="middle" fill="#000" transform="rotate(-90 308.5 369.4)">(% of shC-treated cells)</text>
<text x="-0.2" y="12.7" font-size="17.6" font-weight="bold" text-anchor="start" fill="#000">A</text>
<text x="-1.1" y="295.8" font-size="16.8" font-weight="bold" text-anchor="start" fill="#000">B</text>
</svg>
</body></html>
